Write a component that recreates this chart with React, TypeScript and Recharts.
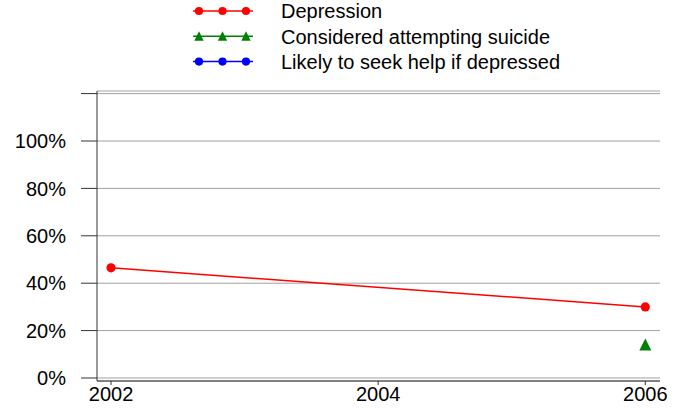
import React from 'react';
import { LineChart, Line, XAxis, YAxis, CartesianGrid } from 'recharts';

const years = [2002, 2004, 2006];
const yTicks = [0, 20, 40, 60, 80, 100, 120];

const depression = [
  { year: 2002, value: 46.5 },
  { year: 2006, value: 30 },
];
const consideredSuicide = [{ year: 2006, value: 14 }];
const seekHelp: { year: number; value: number }[] = [];

const seriesInfo = [
  { name: 'Depression', color: '#ff0000', shape: 'circle', data: depression },
  { name: 'Considered attempting suicide', color: '#008000', shape: 'triangle', data: consideredSuicide },
  { name: 'Likely to seek help if depressed', color: '#0000ff', shape: 'circle', data: seekHelp },
];

const FONT = '"Liberation Sans", Arial, sans-serif';
const FS = 20;

const Marker = ({ cx, cy, color, shape, r = 4.6, s = 6 }: any) => {
  if (cx == null || cy == null) return null;
  if (shape === 'triangle') {
    return (
      <polygon
        points={`${cx},${cy - s * 1.05} ${cx - s},${cy + s * 0.95} ${cx + s},${cy + s * 0.95}`}
        fill={color}
        stroke="none"
      />
    );
  }
  return <circle cx={cx} cy={cy} r={r} fill={color} stroke="none" />;
};

const LegendBlock = () => (
  <svg width={681} height={80} style={{ position: 'absolute', left: 0, top: 0, display: 'block' }}>
    {seriesInfo.map((s, i) => {
      const y = 11 + i * 25.3;
      return (
        <g key={s.name}>
          <line x1={193} x2={253} y1={y} y2={y} stroke={s.color} strokeWidth={1.5} />
          {[199, 222.5, 246].map((x) => (
            <Marker key={x} cx={x} cy={y} color={s.color} shape={s.shape} r={4.1} s={4.7} />
          ))}
          <text x={281} y={y} dy="0.36em" fontSize={FS} fontFamily={FONT} fill="#000">
            {s.name}
          </text>
        </g>
      );
    })}
  </svg>
);

export default function App() {
  return (
    <div style={{ position: 'absolute', left: 0, top: 0, width: 681, height: 412, background: '#fff' }}>
      <LineChart width={681} height={412} margin={{ top: 91, right: 21, bottom: 0, left: 0 }}>
        <CartesianGrid vertical={false} stroke="#a0a0a0" strokeWidth={1} />
        <XAxis
          dataKey="year"
          type="number"
          domain={[2001.895, 2006.11]}
          ticks={years}
          allowDuplicatedCategory={false}
          height={31}
          tickSize={4}
          tickMargin={2}
          stroke="#333"
          tick={{ fill: '#000', fontSize: FS, fontFamily: FONT }}
        />
        <YAxis
          type="number"
          domain={[-1.27, 121.1]}
          ticks={yTicks}
          width={97}
          tickSize={16}
          tickMargin={15}
          stroke="#333"
          tickFormatter={(v: number) => (v === 120 ? '' : `${v}%`)}
          tick={{ fill: '#000', fontSize: FS, fontFamily: FONT }}
          allowDataOverflow
        />
        {seriesInfo.map((s) => (
          <Line
            key={s.name}
            name={s.name}
            data={s.data}
            dataKey="value"
            stroke={s.color}
            strokeWidth={1.5}
            isAnimationActive={false}
            dot={(p: any) => <Marker key={`${s.name}-${p.index}`} cx={p.cx} cy={p.cy} color={s.color} shape={s.shape} />}
            activeDot={false}
          />
        ))}
      </LineChart>
      <LegendBlock />
    </div>
  );
}
